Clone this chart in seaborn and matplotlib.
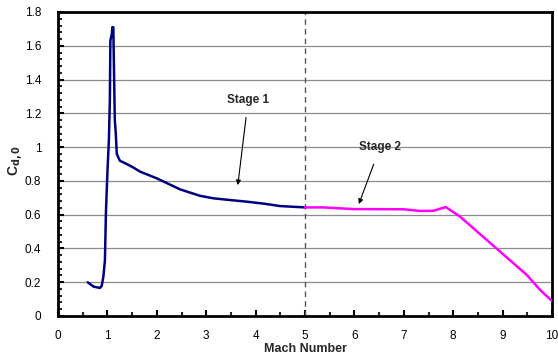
import matplotlib
matplotlib.use("Agg")
import matplotlib.pyplot as plt
import seaborn as sns
import pandas as pd
from matplotlib.ticker import MultipleLocator

sns.set_theme(style="white")
plt.rcParams['font.family'] = ['Liberation Sans', 'DejaVu Sans']

# Stage 1 data (navy)
mach1 = [0.6, 0.72, 0.85, 0.885, 0.92, 0.95, 0.97, 1.0, 1.03, 1.05, 1.06, 1.09, 1.1, 1.12,
         1.13, 1.15, 1.17, 1.19, 1.25, 1.39, 1.52, 1.66, 2.0, 2.47, 2.87, 3.14, 3.5, 3.82, 4.2, 4.49, 5.0]
cd1 = [0.2, 0.174, 0.166, 0.178, 0.237, 0.33, 0.61, 0.85, 1.04, 1.28, 1.63, 1.67, 1.71, 1.71,
       1.52, 1.16, 1.08, 0.96, 0.92, 0.90, 0.88, 0.855, 0.815, 0.75, 0.712, 0.697, 0.686, 0.677, 0.664, 0.651, 0.643]
# Stage 2 data (magenta)
mach2 = [5.0, 5.37, 5.98, 6.99, 7.33, 7.6, 7.85, 8.14, 8.95, 9.49, 9.76, 10.0]
cd2 = [0.643, 0.643, 0.633, 0.632, 0.622, 0.623, 0.645, 0.588, 0.381, 0.243, 0.154, 0.089]

xticks = list(range(0, 11))
yticks = [0, 0.2, 0.4, 0.6, 0.8, 1.0, 1.2, 1.4, 1.6, 1.8]
ytick_labels = ["0", "0.2", "0.4", "0.6", "0.8", "1", "1.2", "1.4", "1.6", "1.8"]

df1 = pd.DataFrame({"Mach": mach1, "Cd": cd1})
df2 = pd.DataFrame({"Mach": mach2, "Cd": cd2})

fig = plt.figure(figsize=(5.58, 3.6), dpi=100)
ax = fig.add_axes([58/558, 1-316/360, (552-58)/558, (316-12)/360])

for yv in yticks[1:-1]:
    ax.axhline(yv, color="#8c8c8c", lw=0.9, zorder=0)

ax.axvline(5, color="#555555", lw=1.0, ls=(0, (4, 3)), zorder=1)

sns.lineplot(data=df1, x="Mach", y="Cd", sort=False, estimator=None, color="#000080", lw=1.8, ax=ax, zorder=3)
sns.lineplot(data=df2, x="Mach", y="Cd", sort=False, estimator=None, color="#ff00ff", lw=1.8, ax=ax, zorder=3)

ax.set_xlim(0, 10)
ax.set_ylim(0, 1.8)
ax.set_xticks(xticks)
ax.set_xticklabels([str(v) for v in xticks])
ax.set_yticks(yticks)
ax.set_yticklabels(ytick_labels)
ax.xaxis.set_minor_locator(MultipleLocator(0.5))
ax.yaxis.set_minor_locator(MultipleLocator(0.04))
ax.tick_params(axis="both", which="major", direction="in", length=4, width=1.5,
               labelsize=8.5, colors="black")
ax.tick_params(axis="x", which="major", pad=10)
ax.tick_params(axis="y", which="major", pad=12)
ax.tick_params(axis="both", which="minor", direction="in", length=3, width=1.5)
ax.tick_params(bottom=True, left=True, which="both")

for s in ax.spines.values():
    s.set_color("black")
    s.set_linewidth(2)

ax.set_xlabel("Mach Number", fontsize=9, fontweight="bold")
ax.xaxis.set_label_coords(0.5, -0.088)
ax.set_ylabel(r"C$_{\mathbf{d,0}}$", fontsize=10, fontweight="bold")
ax.yaxis.set_label_coords(-0.066, 0.513)

ax.annotate("Stage 1", xy=(3.64, 0.775), xytext=(3.85, 1.28), fontsize=8.5, fontweight="bold",
            ha="center", va="center",
            arrowprops=dict(arrowstyle="-|>", color="black", lw=0.8, mutation_scale=7, shrinkA=6, shrinkB=0))
ax.annotate("Stage 2", xy=(6.09, 0.663), xytext=(6.52, 1.0), fontsize=8.5, fontweight="bold",
            ha="center", va="center",
            arrowprops=dict(arrowstyle="-|>", color="black", lw=0.8, mutation_scale=7, shrinkA=6, shrinkB=0))

fig.savefig("out.png", dpi=100)
